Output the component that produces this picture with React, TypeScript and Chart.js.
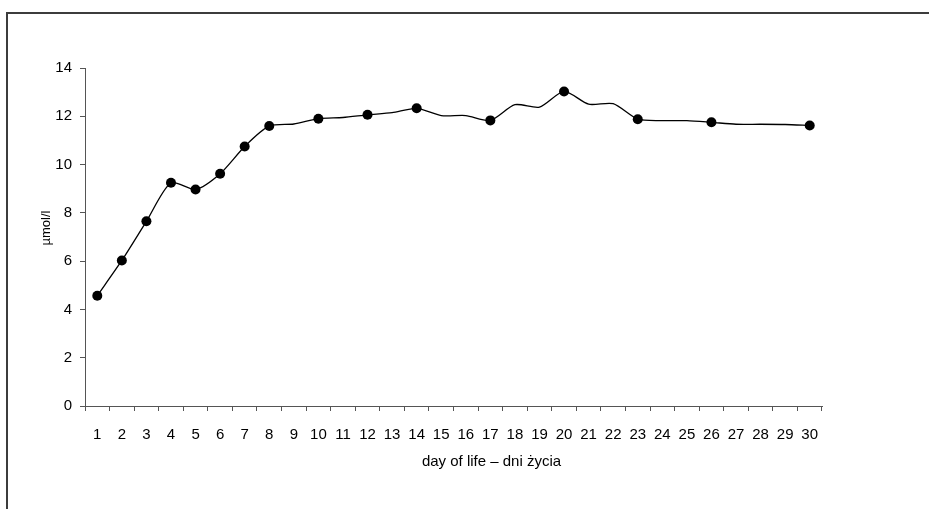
import React, { useEffect, useRef } from "react";
import { Chart, registerables } from "chart.js";

Chart.register(...registerables);

const days: string[] = [
  "1", "2", "3", "4", "5", "6", "7", "8", "9", "10",
  "11", "12", "13", "14", "15", "16", "17", "18", "19", "20",
  "21", "22", "23", "24", "25", "26", "27", "28", "29", "30",
];

const values: number[] = [
  4.57, 6.03, 7.65, 9.25, 8.97, 9.62, 10.75, 11.6, 11.68, 11.9,
  11.95, 12.06, 12.15, 12.33, 12.03, 12.03, 11.83, 12.48, 12.38, 13.03,
  12.5, 12.52, 11.88, 11.82, 11.82, 11.75, 11.67, 11.67, 11.66, 11.62,
];

const markedDays: string[] = ["1", "2", "3", "4", "5", "6", "7", "8", "10", "12", "14", "17", "20", "23", "26", "30"];

const yTicks: number[] = [0, 2, 4, 6, 8, 10, 12, 14];

const xTitle = "day of life \u2013 dni \u017cycia";
const yTitle = "\u00b5mol/l";

const FONT = '"Liberation Sans", Arial, sans-serif';

const framePlugin = {
  id: "frame",
  beforeDraw(chart: any) {
    const ctx = chart.ctx;
    ctx.save();
    ctx.strokeStyle = "#3c3c3c";
    ctx.lineWidth = 2;
    ctx.beginPath();
    ctx.moveTo(7, chart.height);
    ctx.lineTo(7, 13);
    ctx.lineTo(chart.width, 13);
    ctx.stroke();
    ctx.restore();
  },
  afterDraw(chart: any) {
    const ctx = chart.ctx;
    const ca = chart.chartArea;
    ctx.save();
    ctx.fillStyle = "#000";
    ctx.font = `15px ${FONT}`;
    ctx.textAlign = "center";
    ctx.textBaseline = "middle";
    ctx.fillText(xTitle, (ca.left + ca.right) / 2 + 38, ca.bottom + 56);
    ctx.translate(46, (ca.top + ca.bottom) / 2 - 9);
    ctx.rotate(-Math.PI / 2);
    ctx.font = `13px ${FONT}`;
    ctx.fillText(yTitle, 0, 0);
    ctx.restore();
  },
};

export default function App() {
  const ref = useRef<HTMLCanvasElement | null>(null);

  useEffect(() => {
    if (!ref.current) return;
    Chart.defaults.font.family = FONT;
    Chart.defaults.color = "#000";
    const chart = new Chart(ref.current, {
      type: "line",
      data: {
        labels: days,
        datasets: [
          {
            data: values,
            borderColor: "#000",
            borderWidth: 1.3,
            tension: 0.25,
            pointRadius: days.map((d) => (markedDays.includes(d) ? 5 : 0)),
            pointHoverRadius: 0,
            pointBackgroundColor: "#000",
            pointBorderColor: "#000",
            pointBorderWidth: 0,
          },
        ],
      },
      options: {
        animation: false,
        responsive: false,
        events: [],
        layout: { padding: { left: 0, top: 68, right: 107, bottom: 0 } },
        plugins: {
          legend: { display: false },
          tooltip: { enabled: false },
          title: { display: false },
        },
        scales: {
          x: {
            type: "category",
            offset: true,
            grid: {
              offset: true,
              drawOnChartArea: false,
              color: "#555",
              tickLength: 5,
            },
            border: { color: "#555", width: 1 },
            ticks: {
              autoSkip: false,
              maxRotation: 0,
              font: { size: 15 },
              padding: 15,
              color: "#000",
            },
            afterFit: (s: any) => {
              s.height = 103;
            },
          },
          y: {
            min: 0,
            max: 14,
            afterBuildTicks: (s: any) => {
              s.ticks = yTicks.map((v) => ({ value: v }));
            },
            grid: {
              drawOnChartArea: false,
              color: "#555",
              tickLength: 5,
            },
            border: { color: "#555", width: 1 },
            ticks: {
              font: { size: 15 },
              padding: 8,
              color: "#000",
            },
            afterFit: (s: any) => {
              s.width = 85;
            },
          },
        },
      },
      plugins: [framePlugin],
    });
    return () => chart.destroy();
  }, []);

  return (
    <div style={{ position: "fixed", left: 0, top: 0, width: 929, height: 509, background: "#fff" }}>
      <canvas ref={ref} width={929} height={509} style={{ display: "block" }} />
    </div>
  );
}
